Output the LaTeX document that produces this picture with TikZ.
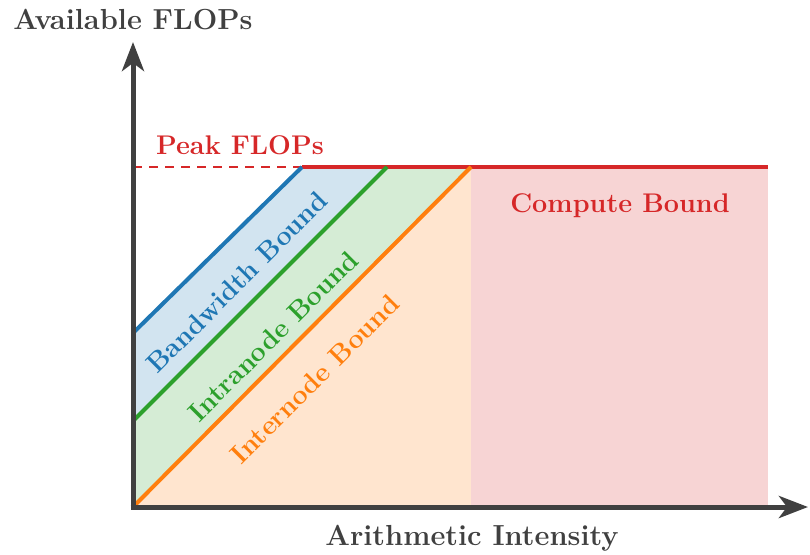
\documentclass[tikz,border=0pt]{standalone}
\usetikzlibrary{arrows.meta}
\definecolor{tabblue}{HTML}{1F77B4}
\definecolor{tabgreen}{HTML}{2CA02C}
\definecolor{taborange}{HTML}{FF7F0E}
\definecolor{tabred}{HTML}{D62728}
\definecolor{axisgray}{HTML}{404040}
\begin{document}
\begin{tikzpicture}[x=1pt,y=-1pt,
  boundline/.style={line width=4pt},
  axisline/.style={line width=5pt,draw=axisgray,-{Stealth[length=29pt,width=22pt,inset=8pt]}},
  axislabel/.style={font=\fontsize{29}{34}\selectfont\bfseries,text=axisgray},
  arealabel/.style={font=\fontsize{27}{32}\selectfont\bfseries}]
\useasboundingbox (0,0) rectangle (810,554);
% coordinates
\coordinate (O) at (133,507);
\coordinate (ytop) at (133,42);
\coordinate (xend) at (808,507);
\coordinate (pk0) at (133,167);
\coordinate (b0) at (133,333);
\coordinate (b1) at (302,167);
\coordinate (g0) at (133,421);
\coordinate (g1) at (387,167);
\coordinate (o1) at (471,167);
\coordinate (oB) at (471,507);
\coordinate (rEnd) at (768,167);
\coordinate (rB) at (768,507);
% fills
\fill[taborange!20] (O) -- (o1) -- (oB) -- cycle;
\fill[tabgreen!20] (g0) -- (g1) -- (o1) -- (O) -- cycle;
\fill[tabblue!20] (b0) -- (b1) -- (g1) -- (g0) -- cycle;
\fill[tabred!20] (o1) rectangle (rB);
% lines
\draw[tabred,line width=2.5pt,dash pattern=on 9pt off 7pt] (pk0) -- (b1);
\draw[boundline,tabred] (b1) -- (rEnd);
\draw[boundline,tabblue] (b0) -- (b1);
\draw[boundline,tabgreen] (g0) -- (g1);
\draw[boundline,taborange] (O) -- (o1);
% axes
\draw[axisline] ([yshift=-2.5pt]O) -- (ytop);
\draw[axisline] ([xshift=-2.5pt]O) -- (xend);
% labels
\node[axislabel] (ylab) at (133,20) {Available FLOPs};
\node[axislabel] (xlab) at (472,538) {Arithmetic Intensity};
\node[arealabel,text=tabred] (peak) at (240,145) {Peak FLOPs};
\node[arealabel,text=tabred] (comp) at (620,206) {Compute Bound};
\node[arealabel,text=tabblue,rotate=45] (bw) at (237,282) {Bandwidth Bound};
\node[arealabel,text=tabgreen,rotate=45] (intra) at (273,336) {Intranode Bound};
\node[arealabel,text=taborange,rotate=45] (inter) at (315,379) {Internode Bound};
\end{tikzpicture}
\end{document}
